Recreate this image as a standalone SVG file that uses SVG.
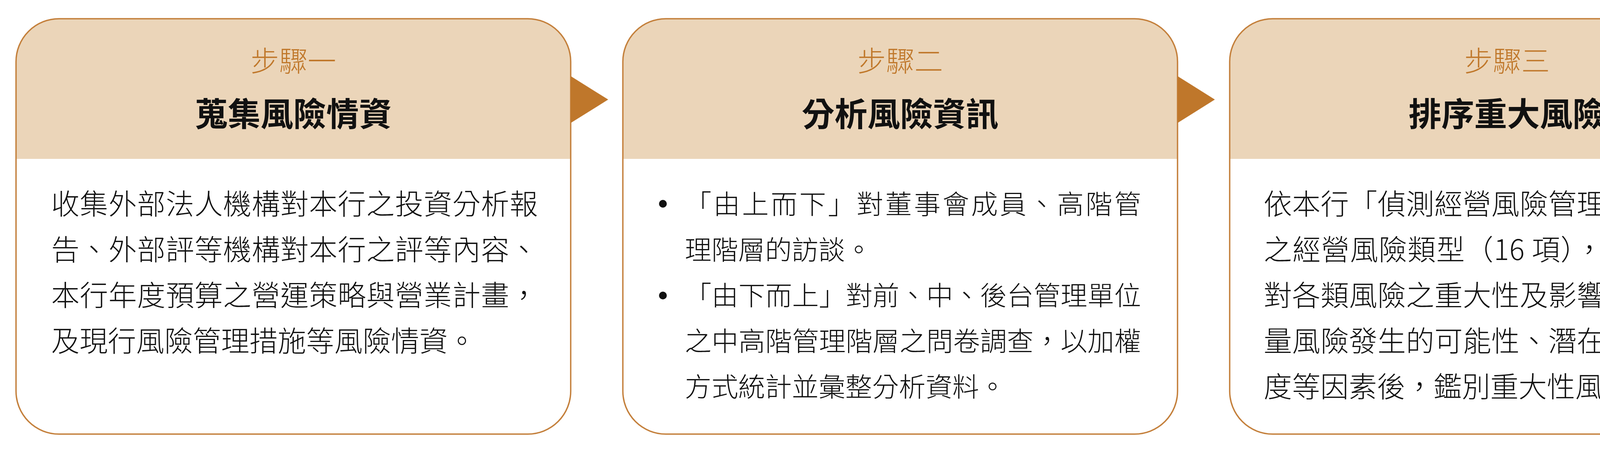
<svg xmlns="http://www.w3.org/2000/svg" width="6186" height="1163" viewBox="0 0 6186 1163">
<style>
.card{fill:#ffffff;stroke:none}
.head{fill:#ebd5b9;stroke:none}
.outline{fill:none;stroke:#c4803c;stroke-width:3.5}
.arrow{fill:#bf772b;stroke:none}
.step{font-family:"Noto Sans CJK TC","Noto Sans CJK SC",sans-serif;font-size:73px;font-weight:300;fill:#c0782b;text-anchor:middle}
.title{font-family:"Noto Sans CJK TC","Noto Sans CJK SC",sans-serif;font-size:84px;font-weight:700;fill:#111111;text-anchor:middle}
.body{font-family:"Noto Sans CJK TC","Noto Sans CJK SC",sans-serif;font-size:72.5px;font-weight:300;fill:#111111}
.body2{font-family:"Noto Sans CJK TC","Noto Sans CJK SC",sans-serif;font-size:68.5px;font-weight:300;fill:#111111}
.bullet{fill:#111111}
</style>
<rect width="6186" height="1163" fill="#ffffff"/>

<g id="step1">
<rect class="card" x="41" y="48" width="1420" height="1064" rx="110"/>
<path class="head" d="M41,407 V158 A110,110 0 0 1 151,48 H1351 A110,110 0 0 1 1461,158 V407 Z"/>
<rect class="outline" x="41" y="48" width="1420" height="1064" rx="110"/>
<text class="step" x="751" y="183">步驟一</text>
<text class="title" x="751" y="323">蒐集風險情資</text>
<text class="body" x="131" y="549" textLength="1246" lengthAdjust="spacing">收集外部法人機構對本行之投資分析報</text>
<text class="body" x="131" y="666" textLength="1246" lengthAdjust="spacing">告、外部評等機構對本行之評等內容、</text>
<text class="body" x="131" y="783" textLength="1246" lengthAdjust="spacing">本行年度預算之營運策略與營業計畫，</text>
<text class="body" x="131" y="900">及現行風險管理措施等風險情資。</text>
</g>

<g id="step2">
<rect class="card" x="1594.5" y="48" width="1420" height="1064" rx="110"/>
<path class="head" d="M1594.5,407 V158 A110,110 0 0 1 1704.5,48 H2904.5 A110,110 0 0 1 3014.5,158 V407 Z"/>
<rect class="outline" x="1594.5" y="48" width="1420" height="1064" rx="110"/>
<text class="step" x="2304.5" y="183">步驟二</text>
<text class="title" x="2304.5" y="323">分析風險資訊</text>
<circle class="bullet" cx="1697" cy="522" r="10"/>
<text class="body2" x="1753" y="548" textLength="1168" lengthAdjust="spacing">「由上而下」對董事會成員、高階管</text>
<text class="body2" x="1753" y="665">理階層的訪談。</text>
<circle class="bullet" cx="1697" cy="757" r="10"/>
<text class="body2" x="1753" y="782" textLength="1168" lengthAdjust="spacing">「由下而上」對前、中、後台管理單位</text>
<text class="body2" x="1753" y="899" textLength="1168" lengthAdjust="spacing">之中高階管理階層之問卷調查，以加權</text>
<text class="body2" x="1753" y="1016">方式統計並彙整分析資料。</text>
</g>

<g id="step3">
<rect class="card" x="3148" y="48" width="1420" height="1064" rx="110"/>
<path class="head" d="M3148,407 V158 A110,110 0 0 1 3258,48 H4458 A110,110 0 0 1 4568,158 V407 Z"/>
<rect class="outline" x="3148" y="48" width="1420" height="1064" rx="110"/>
<text class="step" x="3858" y="183">步驟三</text>
<text class="title" x="3858" y="323">排序重大風險</text>
<text class="body" x="3235" y="549" textLength="1238" lengthAdjust="spacing">依本行「偵測經營風險管理準則」所列</text>
<text class="body" x="3235" y="666" textLength="1238" lengthAdjust="spacing">之經營風險類型（16 項），評估本行面</text>
<text class="body" x="3235" y="783" textLength="1238" lengthAdjust="spacing">對各類風險之重大性及影響性，即在考</text>
<text class="body" x="3235" y="900" textLength="1238" lengthAdjust="spacing">量風險發生的可能性、潛在衝擊嚴重程</text>
<text class="body" x="3235" y="1017">度等因素後，鑑別重大性風險及排序。</text>
</g>

<g id="step4">
<rect class="card" x="4701.5" y="48" width="1420" height="1064" rx="110"/>
<path class="head" d="M4701.5,407 V158 A110,110 0 0 1 4811.5,48 H6011.5 A110,110 0 0 1 6121.5,158 V407 Z"/>
<rect class="outline" x="4701.5" y="48" width="1420" height="1064" rx="110"/>
<text class="step" x="5411.5" y="183">步驟四</text>
<text class="title" x="5411.5" y="323">制定風險胃納</text>
<text class="body" x="4794" y="549" textLength="1234" lengthAdjust="spacing">依重大性風險項目，制定本行風險胃納</text>
<text class="body" x="4794" y="666" textLength="1234" lengthAdjust="spacing">之質、量化指標及零容忍度風險指標，</text>
<text class="body" x="4794" y="783" textLength="1234" lengthAdjust="spacing">並經風險管理委員會及董事會審議通過</text>
<text class="body" x="4794" y="900">後，作為全行遵行之方針。</text>
</g>

<g id="connectors">
<polygon class="arrow" points="1461,195 1557,255 1461,315"/>
<polygon class="arrow" points="3014.5,195 3110,255 3014.5,315"/>
<polygon class="arrow" points="4568,195 4663,255 4568,315"/>
</g>
</svg>
